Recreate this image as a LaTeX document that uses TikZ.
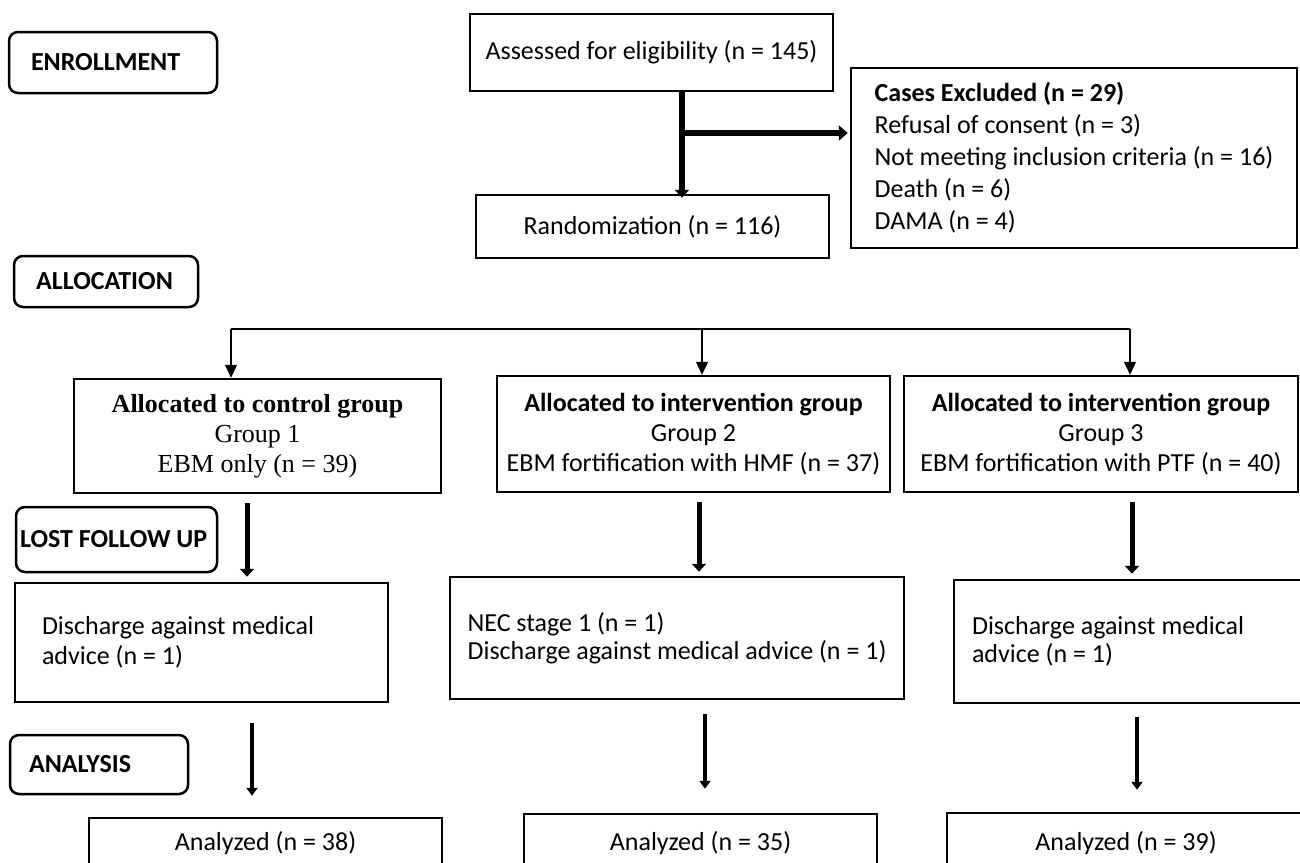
\documentclass[tikz,border=0pt]{standalone}
\usepackage{fontspec}
\setmainfont{Carlito}
\newfontfamily\timesfont{Liberation Serif}
\usetikzlibrary{arrows.meta}

\tikzset{
  box/.style={draw, line width=2.5pt, inner sep=0pt, align=center},
  phase/.style={draw, line width=2.5pt, rounded corners=9pt, font=\fontsize{26}{30}\selectfont\bfseries, inner ysep=0pt, align=flush left},
  fat/.style={line width=5pt, -{Triangle[width=14pt,length=8pt]}},
  slim/.style={line width=1.2pt, -{Triangle[width=12pt,length=13pt]}},
}

\begin{document}
\begin{tikzpicture}[x=1pt, y=-1pt, every node/.style={font=\fontsize{26}{30}\selectfont}]
\path[use as bounding box, clip] (0,0) rectangle (1300,862);
% stages
\node[phase, minimum width=208pt, minimum height=61pt, text width=164pt, inner xsep=22pt] (enroll) at (113,62.5) {ENROLLMENT};
\node[phase, minimum width=184pt, minimum height=51pt, text width=140pt, inner xsep=22pt] (alloc) at (106,281.5) {ALLOCATION};
\node[phase, minimum width=201pt, minimum height=65pt, text width=193pt, inner xsep=4pt] (lost) at (116.5,539.5) {LOST FOLLOW UP};
\node[phase, minimum width=178pt, minimum height=59pt, text width=140pt, inner xsep=19pt] (analysis) at (99,764.5) {ANALYSIS};
% enrollment
\node[box, minimum width=363pt, minimum height=77pt] (assess) at (651.5,52.5) {Assessed for eligibility (n = 145)};
\node[box, minimum width=353pt, minimum height=63pt] (random) at (652.5,226.5) {Randomization (n = 116)};
\node[box, align=flush left, minimum width=446pt, minimum height=180pt, font=\fontsize{26}{32}\selectfont] (excl) at (1074,158)
  {\textbf{Cases Excluded (n = 29)}\\Refusal of consent (n = 3)\\Not meeting inclusion criteria (n = 16)\\Death (n = 6)\\DAMA (n = 4)};
\coordinate (split) at (682,133);
\draw[line width=6pt, -{Triangle[width=14pt,length=8pt]}, shorten >=-4pt] (split |- assess.south) -- (split |- random.north);
\draw[line width=6pt, -{Triangle[width=15pt,length=9pt]}, shorten >=2pt] (split) -- (excl.west |- split);
% groups
\node[box, minimum width=367pt, minimum height=114pt, font=\timesfont\fontsize{26}{30}\selectfont] (g1) at (257.5,436)
  {\textbf{Allocated to control group}\\Group 1\\EBM only (n = 39)};
\node[box, minimum width=393pt, minimum height=116pt] (g2) at (693.5,434)
  {\textbf{Allocated to intervention group}\\Group 2\\EBM fortification with HMF (n = 37)};
\node[box, minimum width=394pt, minimum height=116pt] (g3) at (1101,434)
  {\textbf{Allocated to intervention group}\\Group 3\\EBM fortification with PTF (n = 40)};
\coordinate (allocL) at (231,329);
\coordinate (allocM) at (702,329);
\coordinate (allocR) at (1130,329);
\draw[line width=1.2pt] (allocL) -- (allocR);
\draw[slim] (allocL) -- (allocL |- g1.north);
\draw[slim] (allocM) -- (allocM |- g2.north);
\draw[slim] (allocR) -- (allocR |- g3.north);
% lost to follow up
\node[box, align=flush left, minimum width=373pt, minimum height=119pt, text width=319pt, inner xsep=27pt] (l1) at (201.5,642.5)
  {Discharge against medical\\advice (n = 1)};
\node[box, align=flush left, minimum width=454pt, minimum height=122pt, font=\fontsize{26}{28}\selectfont] (l2) at (677,638)
  {NEC stage 1 (n = 1)\\Discharge against medical advice (n = 1)};
\node[box, align=flush left, minimum width=351pt, minimum height=123pt, text width=315pt, inner xsep=18pt, font=\fontsize{26}{28}\selectfont] (l3) at (1129.5,641.5)
  {Discharge against medical\\advice (n = 1)};
\draw[fat, shorten <=9pt, shorten >=5pt] ([xshift=-10.5pt]g1.south) -- ([xshift=-10.5pt]g1.south |- l1.north);
\draw[fat, shorten <=9pt, shorten >=4pt] ([xshift=5.5pt]g2.south) -- ([xshift=5.5pt]g2.south |- l2.north);
\draw[fat, shorten <=9pt, shorten >=5pt] ([xshift=31pt]g3.south) -- ([xshift=31pt]g3.south |- l3.north);
% analysis
\node[box, minimum width=353pt, minimum height=50pt] (a1) at (265.5,843) {Analyzed (n = 38)};
\node[box, minimum width=353pt, minimum height=58pt] (a2) at (700.5,843) {Analyzed (n = 35)};
\node[box, minimum width=358pt, minimum height=60pt] (a3) at (1126,843) {Analyzed (n = 39)};
\draw[line width=4pt, -{Triangle[width=11pt,length=8pt]}, shorten <=20pt, shorten >=21pt] ([xshift=50.5pt]l1.south) -- ([xshift=50.5pt]l1.south |- a1.north);
\draw[line width=4pt, -{Triangle[width=11pt,length=8pt]}, shorten <=14pt, shorten >=24pt] ([xshift=28pt]l2.south) -- ([xshift=28pt]l2.south |- a2.north);
\draw[line width=4pt, -{Triangle[width=11pt,length=8pt]}, shorten <=13pt, shorten >=22pt] ([xshift=7.5pt]l3.south) -- ([xshift=7.5pt]l3.south |- a3.north);
\end{tikzpicture}
\end{document}
